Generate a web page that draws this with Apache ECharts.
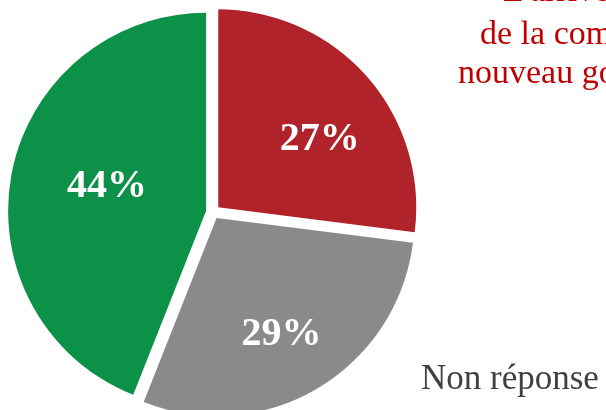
<!DOCTYPE html>
<html>
<head>
<meta charset="UTF-8">
<title>Pie</title>
<script type="text/javascript" src="https://cdn.jsdelivr.net/npm/echarts@6/dist/echarts.min.js"></script>
<style>
    *{margin:0;padding:0}
    html,body{width:100%;height:100%;background:#fff}
    #main{width:606px;height:410px}
</style>
</head>
<body>
<div id="main"></div>
<script type="text/javascript">
    // valeurs
    var names = ['Oui', 'Non réponse', 'Non'];
    var values = [27, 29, 44];
    var colors = ['#B0232A', '#8A8A8A', '#0C9148'];

    var titleLines = ["L'arrivée", 'de la commune', 'nouveau gouvernement'];
    var serif = '"Liberation Serif", "DejaVu Serif", serif';

    // reglages des etiquettes (deplacement a la main)
    var labelStyles = [
        { padding: [0, 0, 0, 50] },
        { padding: [0, 0, 0, 26], formatter: '\n{c}%', lineHeight: 58 },
        { padding: [0, 0, 0, 2], formatter: '{c}%\n', lineHeight: 10 }
    ];

    var pieData = values.map(function (v, i) {
        return {
            name: names[i],
            value: v,
            selected: true,
            itemStyle: { color: colors[i] },
            label: labelStyles[i]
        };
    });

    var option = {
        animation: false,
        series: [{
            type: 'pie',
            center: [213, 212],
            radius: 198,
            startAngle: 90,
            selectedMode: 'multiple',
            selectedOffset: 7,
            emphasis: { disabled: true },
            label: {
                position: 'inside',
                formatter: '{c}%',
                color: '#fff',
                fontFamily: serif,
                fontWeight: 'bold',
                fontSize: 40
            },
            labelLine: { show: false },
            data: pieData
        }],
        graphic: [
            { type: 'text', left: 503, top: -25, style: { text: titleLines[0], fill: '#C00000', font: '34px ' + serif } },
            { type: 'text', left: 480, top: 18, style: { text: titleLines[1], fill: '#C00000', font: '34px ' + serif } },
            { type: 'text', left: 458, top: 57, style: { text: titleLines[2], fill: '#C00000', font: '34px ' + serif } },
            { type: 'text', left: 421, top: 362, style: { text: names[1], fill: '#404040', font: '35px ' + serif } }
        ]
    };

    var myChart = echarts.init(document.getElementById('main'));
    myChart.setOption(option);
</script>
</body>
</html>
